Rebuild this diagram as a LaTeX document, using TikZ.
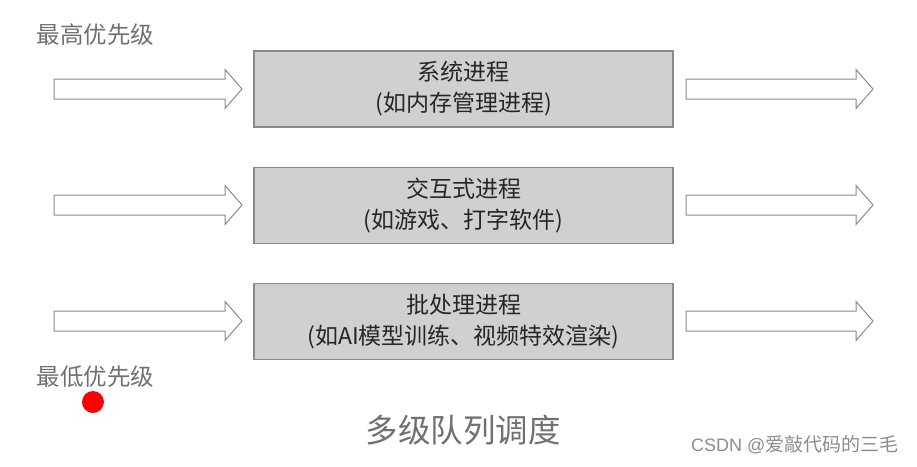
\documentclass[tikz,border=0pt]{standalone}
\usepackage{fontspec}
\setmainfont{Noto Sans CJK SC}
\newfontfamily\latinfont{Liberation Sans}
\usetikzlibrary{positioning}
\definecolor{boxgray}{HTML}{D0D0D0}
\definecolor{edgegray}{HTML}{8A8A8A}
\definecolor{labelgray}{HTML}{707070}
\tikzset{
  procbox/.style={draw=edgegray, fill=boxgray, line width=1.2pt, minimum width=419pt, minimum height=76pt, align=center, font=\fontsize{23}{31}\selectfont, text=black!85},
  sidelabel/.style={anchor=west, text=labelgray, font=\fontsize{23.5}{26}\selectfont},
  blockarrow/.style={draw=edgegray, fill=white, line width=1pt, line join=miter}
}
\begin{document}
\begin{tikzpicture}[x=1pt,y=-1pt]
		\useasboundingbox (0,0) rectangle (917,466);
		
		% draw boxes
		\node[procbox] (sys) at (463.5,89) {系统进程\\(如内存管理进程)};
		\node[procbox] (inter) at (463.5,205.5) {交互式进程\\(如游戏、打字软件)};
		\node[procbox] (batch) at (463.5,321.5) {批处理进程\\(如AI模型训练、视频特效渲染)};
		
		% draw arrows
		\foreach \y in {89,205,321}
		{
		\draw[blockarrow] (54,\y-10) -- (225,\y-10) -- (225,\y-19.5) -- (242,\y) -- (225,\y+19.5) -- (225,\y+10) -- (54,\y+10) -- cycle;
		\draw[blockarrow] (686,\y-10) -- (856,\y-10) -- (856,\y-19.5) -- (873,\y) -- (856,\y+19.5) -- (856,\y+10) -- (686,\y+10) -- cycle;
		}
		
		% draw labels
		\node[sidelabel] (high) at (33,35) {最高优先级};
		\node[sidelabel] (low) at (33,377) {最低优先级};
		\node[circle, fill=red, inner sep=0pt, minimum size=22pt] (dot) at (93,402) {};
		\node[text=labelgray, font=\fontsize{32.5}{36}\selectfont] (title) at (463,430) {多级队列调度};
		\node[anchor=east, text=black!45, font=\fontsize{19}{22}\selectfont] (mark) at (902,445) {{\latinfont\fontsize{18}{22}\selectfont CSDN @}爱敲代码的三毛};
		\end{tikzpicture}
\end{document}
